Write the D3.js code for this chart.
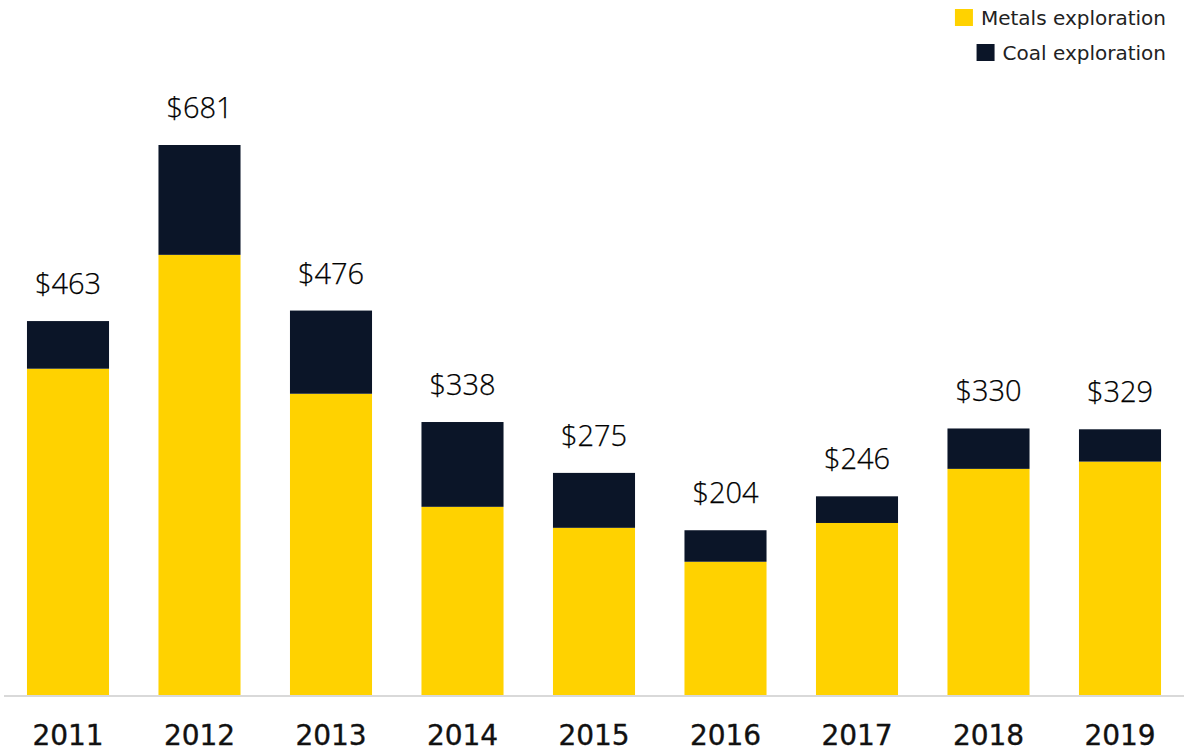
<!DOCTYPE html>
<html>
<head>
<meta charset="utf-8">
<script src="https://cdn.jsdelivr.net/npm/d3@7"></script>
<style>
  body { margin: 0; background: #fff; }
  text { font-family: "Open Sans", "Noto Sans", sans-serif; }
</style>
</head>
<body>
<script>
const years = ["2011", "2012", "2013", "2014", "2015", "2016", "2017", "2018", "2019"];
const metals = [404, 545, 373, 233, 207, 165, 213, 280, 289];
const coal = [59, 136, 103, 105, 68, 39, 33, 50, 40];
const totals = [463, 681, 476, 338, 275, 204, 246, 330, 329];
const seriesNames = ["Metals exploration", "Coal exploration"];
const colors = ["#FFD200", "#0B1528"];

const width = 1184, height = 752;
const baseY = 695;

const svg = d3.select("body").append("svg")
  .attr("width", width)
  .attr("height", height);

const x = d3.scaleBand()
  .domain(years)
  .range([2.25, 1185.75])
  .paddingInner(0.376)
  .paddingOuter(0.188);

const y = d3.scaleLinear()
  .domain([0, 681])
  .range([baseY, 145]);

const rows = years.map((yr, i) => ({year: yr, metals: metals[i], coal: coal[i], total: totals[i]}));
const stack = d3.stack().keys(["metals", "coal"])(rows);

svg.append("g")
  .selectAll("g")
  .data(stack)
  .enter()
  .append("g")
  .attr("fill", (d, i) => colors[i])
  .selectAll("rect")
  .data(d => d)
  .enter()
  .append("rect")
  .attr("x", d => x(d.data.year))
  .attr("width", x.bandwidth())
  .attr("y", d => y(d[1]))
  .attr("height", d => y(d[0]) - y(d[1]));

// baseline
svg.append("line")
  .attr("x1", 4).attr("x2", width)
  .attr("y1", baseY + 1).attr("y2", baseY + 1)
  .attr("stroke", "#d9d9d9")
  .attr("stroke-width", 2);

// total labels
svg.append("g")
  .selectAll("text")
  .data(rows)
  .enter()
  .append("text")
  .attr("x", d => x(d.year) + x.bandwidth() / 2)
  .attr("y", d => y(d.metals + d.coal) - 27)
  .attr("text-anchor", "middle")
  .attr("font-size", 29)
  .attr("font-weight", 300)
  .attr("fill", "#000")
  .attr("stroke", "#000")
  .attr("stroke-width", 0.25)
  .text(d => "$" + d.total);

// year axis
const xAxis = g => g.attr("transform", `translate(0, ${baseY})`)
  .call(d3.axisBottom(x).tickSize(0).tickPadding(0))
  .call(g => g.select(".domain").remove())
  .call(g => g.selectAll("text")
    .attr("dy", 0)
    .attr("y", 50)
    .attr("font-size", 28)
    .attr("fill", "#111")
    .attr("stroke", "#111")
    .attr("stroke-width", 0.35)
    .style("font-family", "\"DejaVu Sans\", sans-serif"));
svg.append("g").call(xAxis);

// legend
const legend = svg.append("g");
const legendRows = [
  {name: seriesNames[0], color: colors[0], y: 25},
  {name: seriesNames[1], color: colors[1], y: 60}
];
const lg = legend.selectAll("g")
  .data(legendRows)
  .enter()
  .append("g");
lg.append("text")
  .attr("x", 1166)
  .attr("y", d => d.y)
  .attr("text-anchor", "end")
  .attr("font-size", 20)
  .attr("fill", "#222")
  .style("font-family", "\"DejaVu Sans\", sans-serif")
  .text(d => d.name);
lg.each(function(d) {
  const t = d3.select(this).select("text").node().getBBox();
  d3.select(this).insert("rect", "text")
    .attr("x", t.x - 26)
    .attr("y", d.y - 16)
    .attr("width", 18)
    .attr("height", 17)
    .attr("fill", d.color);
});
</script>
</body>
</html>
